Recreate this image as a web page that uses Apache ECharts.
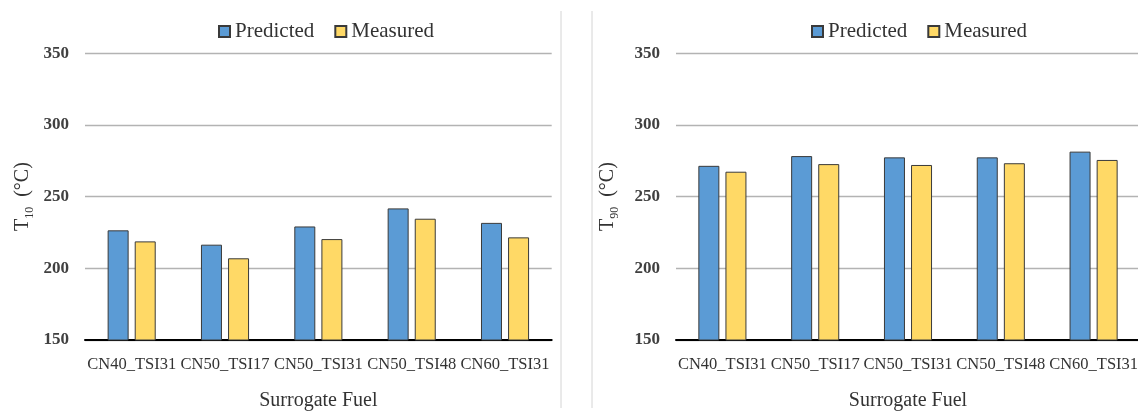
<!DOCTYPE html>
<html>
<head>
<meta charset="utf-8">
<script src="https://cdn.jsdelivr.net/npm/echarts@6/dist/echarts.min.js"></script>
<style>
html,body{margin:0;padding:0;background:#fff;}
#chart{width:1138px;height:412px;}
</style>
</head>
<body>
<div id="chart"></div>
<script>
var categories = ['CN40_TSI31','CN50_TSI17','CN50_TSI31','CN50_TSI48','CN60_TSI31'];
var t10Predicted = [226.5, 216.5, 229.2, 241.8, 231.7];
var t10Measured  = [218.8, 207.0, 220.4, 234.6, 221.6];
var t90Predicted = [271.5, 278.3, 277.4, 277.4, 281.4];
var t90Measured  = [267.4, 272.7, 272.1, 273.3, 275.6];
var seriesNames = ['Predicted','Measured'];
var yTicks = {min:150, max:350, interval:50};
var xTitle = 'Surrogate Fuel';

var FONT = '"Liberation Serif", "DejaVu Serif", serif';
var TXT = '#333333';
var BLUE = '#5B9BD5';
var YELLOW = '#FFD966';

function mkX(gi){
  return {
    type:'category', gridIndex:gi, data:categories,
    name:xTitle, nameLocation:'middle', nameGap:51,
    nameTextStyle:{fontFamily:FONT, fontSize:20, color:TXT},
    axisLine:{show:true, lineStyle:{color:'#000', width:2}},
    axisTick:{show:false},
    axisLabel:{fontFamily:FONT, fontSize:16.5, color:TXT, margin:16, interval:0},
    splitLine:{show:false}
  };
}
function mkY(gi, sub, gap){
  return {
    type:'value', gridIndex:gi, min:yTicks.min, max:yTicks.max, interval:yTicks.interval,
    name:'{t|T}{s|' + sub + '}{t|  (°C)}', nameLocation:'middle', nameGap:gap, nameRotate:90,
    nameTextStyle:{
      color:TXT, fontFamily:FONT,
      rich:{
        t:{fontFamily:FONT, fontSize:20, color:TXT, lineHeight:26},
        s:{fontFamily:FONT, fontSize:12, color:TXT, lineHeight:12, verticalAlign:'bottom'}
      }
    },
    axisLine:{show:false}, axisTick:{show:false},
    axisLabel:{fontFamily:FONT, fontSize:17, fontWeight:'bold', color:'#404040', margin:16},
    splitLine:{show:true, lineStyle:{color:'#b3b3b3', width:1.4}}
  };
}
function mkS(name, data, gi, color){
  return {
    type:'bar', name:name, data:data, xAxisIndex:gi, yAxisIndex:gi,
    barWidth:21, barGap:'29%',
    itemStyle:{color:color, borderColor:'#3a3a3a', borderWidth:1},
    emphasis:{disabled:true}, animation:false
  };
}
function mkLegend(left){
  return {
    left:left, top:16, itemWidth:11, itemHeight:11, itemGap:20,
    icon:'rect', data:seriesNames,
    textStyle:{fontFamily:FONT, fontSize:21, color:TXT}
  };
}

var option = {
  backgroundColor:'#fff',
  animation:false,
  legend:[mkLegend(213), mkLegend(806)],
  grid:[
    {left:85, top:53.3, width:466.7, height:286.7, containLabel:false, outerBoundsMode:'none'},
    {left:676, top:53.3, width:464, height:286.7, containLabel:false, outerBoundsMode:'none'}
  ],
  xAxis:[mkX(0), mkX(1)],
  yAxis:[mkY(0,'10',49), mkY(1,'90',55)],
  series:[
    mkS(seriesNames[0], t10Predicted, 0, BLUE),
    mkS(seriesNames[1], t10Measured, 0, YELLOW),
    mkS(seriesNames[0], t90Predicted, 1, BLUE),
    mkS(seriesNames[1], t90Measured, 1, YELLOW)
  ],
  graphic:[
    {type:'line', shape:{x1:561, y1:11, x2:561, y2:408}, style:{stroke:'#d4d4d4', lineWidth:1}},
    {type:'line', shape:{x1:592, y1:11, x2:592, y2:408}, style:{stroke:'#d4d4d4', lineWidth:1}}
  ]
};
var chart = echarts.init(document.getElementById('chart'), null, {renderer:'canvas'});
chart.setOption(option);
</script>
</body>
</html>
